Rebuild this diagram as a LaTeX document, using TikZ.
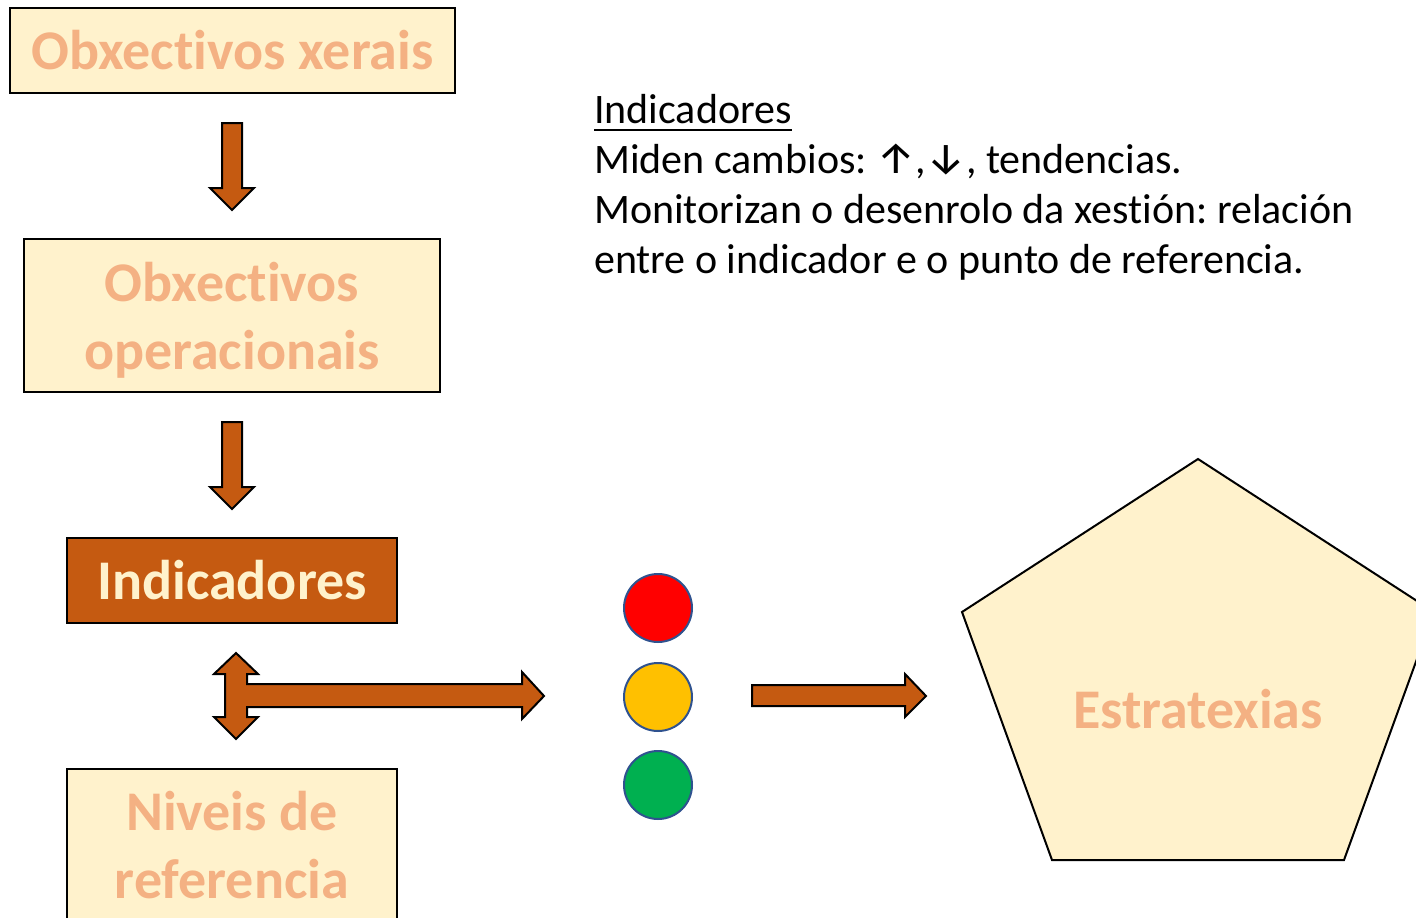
\documentclass[tikz,border=0pt]{standalone}
\usepackage{fontspec}
\setmainfont{Carlito}[RawFeature={-liga;-clig;-calt;-dlig}]
\newfontfamily\arrowfont{Fira Sans}
\frenchspacing
\definecolor{boxfill}{HTML}{FFF2CC}
\definecolor{boxtext}{HTML}{F4B183}
\definecolor{darkor}{HTML}{C55A11}
\definecolor{circedge}{HTML}{2F528F}
\definecolor{tred}{HTML}{FF0000}
\definecolor{tyellow}{HTML}{FFC000}
\definecolor{tgreen}{HTML}{00B050}
\begin{document}
\begin{tikzpicture}[x=1pt,y=-1pt,
  lightbox/.style={draw=black,line width=2pt,fill=boxfill,text=boxtext,inner sep=0pt,align=center,
    font=\fontsize{56}{68}\selectfont\bfseries},
  darkbox/.style={draw=black,line width=2pt,fill=darkor,text=boxfill,inner sep=0pt,align=center,
    font=\fontsize{56}{68}\selectfont\bfseries},
  blockarrow/.style={draw=black,line width=2pt,fill=darkor,line join=miter},
  lamp/.style={circle,draw=circedge,line width=2pt,minimum size=68pt,inner sep=0pt},
  bodytext/.style={anchor=base west,inner sep=0pt,font=\fontsize{42}{50}\selectfont\frenchspacing,text=black}
]
\useasboundingbox (0,0) rectangle (1416,918);
\clip (0,0) rectangle (1416,918);
\fill[white] (0,0) rectangle (1416,918);

% boxes
\node[lightbox,minimum width=445pt,minimum height=85pt] (xerais) at (232.5,50.5) {Obxect\kern0pt ivos xerais};
\node[lightbox,minimum width=416pt,minimum height=153pt] (oper) at (232,315.5) {\rule{0pt}{49pt}Obxect\kern0pt ivos\\operacionais};
\node[darkbox,minimum width=330pt,minimum height=85pt] (ind) at (232,580.5) {Indicadores};
\node[lightbox,minimum width=330pt,minimum height=152pt] (niv) at (232,845) {Niveis de\\referencia};

% down arrows
\draw[blockarrow] (222,123) -- (242,123) -- (242,188) -- (254,188) -- (232,210) -- (210,188) -- (222,188) -- cycle;
\draw[blockarrow] (222,422) -- (242,422) -- (242,487) -- (254,487) -- (232,509) -- (210,487) -- (222,487) -- cycle;

% T double arrow
\draw[blockarrow] (236,653) -- (258,674) -- (247,674) -- (247,684) -- (522,684) -- (522,672) -- (544,696)
  -- (522,719) -- (522,707) -- (247,707) -- (247,717) -- (258,717) -- (236,739) -- (214,717)
  -- (225,717) -- (225,674) -- (214,674) -- cycle;

% lamps
\node[lamp,fill=tred] (red) at (658,608) {};
\node[lamp,fill=tyellow] (yellow) at (658,697) {};
\node[lamp,fill=tgreen] (green) at (658,785) {};

% right arrow
\draw[blockarrow] (752,685) -- (905,685) -- (905,674) -- (926,696) -- (905,717) -- (905,706) -- (752,706) -- cycle;

% pentagon
\draw[line width=2pt,fill=boxfill,line join=miter] (1198,459) -- (1434,612) -- (1344,860) -- (1052,860) -- (962,612) -- cycle;
\node[text=boxtext,inner sep=0pt,font=\fontsize{56}{68}\selectfont\bfseries] (estr) at (1198,709) {Estratexias};

% text block
\node[bodytext] (t1) at (594,123) {Indicadores};
\draw[line width=2.5pt] ([yshift=-7pt]t1.base west) -- ([yshift=-7pt]t1.base east);
\node[bodytext] (t2) at (594,173) {Miden cambios: {\arrowfont\fontsize{44}{50}\selectfont ↑},{\arrowfont\fontsize{44}{50}\selectfont ↓}, tendencias.};
\node[bodytext] (t3) at (594,223) {Monitorizan o desenrolo da xest\kern0pt ión: relación};
\node[bodytext] (t4) at (594,273) {entre o indicador e o punto de referencia.};
\end{tikzpicture}
\end{document}
